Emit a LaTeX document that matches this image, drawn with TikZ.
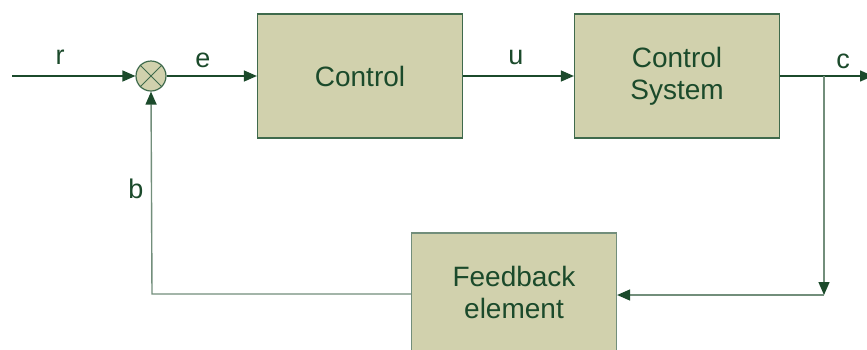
\documentclass[tikz,border=0pt]{standalone}
\usepackage{fontspec}
\setmainfont{Liberation Sans}
\usetikzlibrary{arrows.meta}
\definecolor{boxfill}{HTML}{D1D1AD}
\definecolor{dkgreen}{HTML}{1B4A2B}
\definecolor{edgegreen}{HTML}{3F6A4C}
\definecolor{graygreen}{HTML}{728E7B}
\begin{document}
\begin{tikzpicture}[x=1pt,y=-1pt,
  blockbox/.style={draw=edgegreen,line width=1.2pt,fill=boxfill,minimum width=205pt,minimum height=124pt,inner sep=0pt,font=\fontsize{28}{32}\selectfont,text=dkgreen,align=center},
  fbbox/.style={blockbox,draw=graygreen,minimum height=118pt},
  sumnode/.style={circle,draw=edgegreen,line width=1.2pt,fill=boxfill,minimum size=30pt,inner sep=0pt},
  sig/.style={line width=1.4pt,draw=dkgreen,-{Triangle[length=13pt,width=11pt,color=dkgreen]}},
  fbsig/.style={sig,draw=graygreen},
  lbl/.style={font=\fontsize{27}{30}\selectfont,text=dkgreen,inner sep=0pt}]
\useasboundingbox (0,0) rectangle (867,349);
\clip (0,0) rectangle (867,349);
\node[sumnode] (s) at (151,76) {};
\draw[edgegreen,line width=1pt] (s.north west) -- (s.south east) (s.north east) -- (s.south west);
\node[blockbox] (ctrl) at (360,76) {Control};
\node[blockbox] (sys) at (677,76) {Control\\System};
\node[fbbox] (fb) at (514,292) {Feedback\\element};
\coordinate (in) at (12,76);
\coordinate (out) at (873,76);
\coordinate (br) at (824,76);
\coordinate (dn) at (824,295);
\coordinate (lc) at (152,294);
\draw[sig] (in) -- (s.west);
\draw[sig] (s.east) -- (ctrl.west);
\draw[sig] (ctrl.east) -- (sys.west);
\draw[sig] (sys.east) -- (out);
\draw[fbsig] (br) -- (dn);
\draw[fbsig] (dn) -- (fb.east |- dn);
\draw[fbsig] (fb.west |- lc) -- (lc) -- (s.south);
\node[lbl] (lr) at (60,57) {r};
\node[lbl] (le) at (203,60) {e};
\node[lbl] (lu) at (516,57) {u};
\node[lbl] (lcc) at (843,61) {c};
\node[lbl] (lb) at (136,189) {b};
\end{tikzpicture}
\end{document}
